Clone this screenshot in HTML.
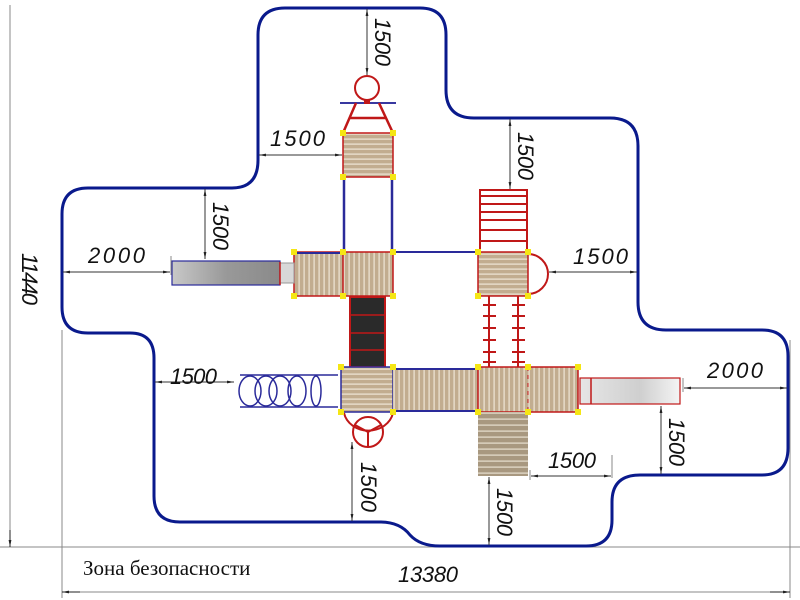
<!DOCTYPE html>
<html><head><meta charset="utf-8"><style>
html,body{margin:0;padding:0;background:#fff;width:800px;height:600px;overflow:hidden}
svg text{font-family:"Liberation Sans",sans-serif;font-style:italic;font-size:22px;fill:#111}
</style></head><body>
<svg width="800" height="600" viewBox="0 0 800 600" xmlns="http://www.w3.org/2000/svg">
<defs>
<pattern id="hs" width="6" height="5" patternUnits="userSpaceOnUse"><rect width="6" height="5" fill="#c2ad90"/><rect y="3.5" width="6" height="1.2" fill="#efe6d8"/></pattern>
<pattern id="vs" width="5" height="6" patternUnits="userSpaceOnUse"><rect width="5" height="6" fill="#c2ad90"/><rect x="3.5" width="1.2" height="6" fill="#efe6d8"/></pattern>
<pattern id="st" width="6" height="6" patternUnits="userSpaceOnUse"><rect width="6" height="6" fill="#a89880"/><rect y="4.5" width="6" height="1.2" fill="#e8e0d0"/></pattern>
<linearGradient id="gs" x1="0" y1="0" x2="1" y2="0"><stop offset="0" stop-color="#c8c8c8"/><stop offset="0.5" stop-color="#999"/><stop offset="1" stop-color="#8a8a8a"/></linearGradient>
<linearGradient id="gs2" x1="0" y1="0" x2="1" y2="0"><stop offset="0" stop-color="#e6e6e6"/><stop offset="0.6" stop-color="#cfcfcf"/><stop offset="1" stop-color="#f4f4f4"/></linearGradient>
<marker id="a" viewBox="0 0 10 10" refX="10" refY="5" markerWidth="7" markerHeight="7" orient="auto-start-reverse"><path d="M0,3 L10,5 L0,7z" fill="#222"/></marker>
</defs>

<g stroke="#888" stroke-width="1" fill="none">
<line x1="0" y1="547" x2="800" y2="547"/>
<line x1="10" y1="5" x2="10" y2="547"/>
<line x1="62" y1="330" x2="62" y2="598"/>
<line x1="790" y1="340" x2="790" y2="598"/>
<line x1="62" y1="592" x2="790" y2="592"/>
</g>
<g stroke="#222" stroke-width="1">
<line x1="10" y1="530" x2="10" y2="547" marker-end="url(#a)"/>
<line x1="80" y1="592" x2="62" y2="592" marker-end="url(#a)"/>
<line x1="770" y1="592" x2="790" y2="592" marker-end="url(#a)"/>
</g>
<text transform="translate(22,253) rotate(90)" textLength="52">11440</text>
<text x="398" y="582" textLength="60">13380</text>
<text x="83" y="575" style="font-family:'Liberation Serif',serif;font-style:normal;font-size:21px">Зона безопасности</text>

<path d="M258,160 L258,35 Q258,8 285,8 L420,8 Q446,8 446,35 L446,90 Q446,118 474,118 L610,118 Q638,118 638,146 L638,302 Q638,330 666,330 L762,330 Q788,330 788,356 L788,448 Q788,475 762,475 L640,475 Q612,475 612,502 L612,520 Q612,546 586,546 L440,546 Q420,546 410,535 Q400,522 380,522 L180,522 Q154,522 154,496 L154,358 Q154,333 130,333 L88,333 Q62,333 62,307 L62,214 Q62,188 88,188 L232,188 Q258,188 258,160 Z" fill="none" stroke="#0a1a8c" stroke-width="3"/>

<circle cx="367" cy="88" r="12" fill="none" stroke="#c01818" stroke-width="2"/>
<line x1="340" y1="103" x2="396" y2="103" stroke="#3838a0" stroke-width="2"/>
<rect x="364" y="99" width="6" height="5" fill="#c01818"/>
<g stroke="#c01818" stroke-width="2.5" fill="none">
<path d="M356,103 L343,133 M379,103 L393,133 M350,118 L386,118"/>
</g>
<rect x="343" y="133" width="50" height="44" fill="url(#hs)" stroke="#c01818" stroke-width="1.5"/>
<g stroke="#2a2a9a" stroke-width="2.5"><line x1="344" y1="177" x2="344" y2="252"/><line x1="392" y1="177" x2="392" y2="252"/></g>
<rect x="294" y="252" width="99" height="44" fill="url(#vs)" stroke="#c01818" stroke-width="1.5"/>
<line x1="294" y1="253" x2="343" y2="253" stroke="#2a2a9a" stroke-width="2"/>
<line x1="343" y1="252" x2="343" y2="296" stroke="#c01818" stroke-width="1.5"/>
<rect x="172" y="261" width="108" height="24" fill="url(#gs)" stroke="#2a2a9a" stroke-width="1.2"/>
<rect x="280" y="263" width="14" height="20" fill="#d8d8d8" stroke="#999" stroke-width="1"/>
<line x1="280" y1="262" x2="280" y2="285" stroke="#c01818" stroke-width="1.5"/>
<line x1="393" y1="252" x2="478" y2="252" stroke="#2a2a9a" stroke-width="2"/>
<g stroke="#c01818" stroke-width="2" fill="none">
<path d="M480,252 L480,190 L527,190 L527,252"/>
<path d="M480,196H527M480,204H527M480,212H527M480,220H527M480,230H527M480,241H527"/>
<path d="M528,254 A20,20 0 0 1 528,294"/>
<path d="M489,296 V370 M518,296 V370"/>
<path d="M483,305H496M483,316H496M483,328H496M483,340H496M483,352H496M483,362H496"/>
<path d="M512,305H525M512,316H525M512,328H525M512,340H525M512,352H525M512,362H525"/>
</g>
<rect x="478" y="252" width="50" height="44" fill="url(#hs)" stroke="#c01818" stroke-width="1.5"/>
<rect x="350" y="297" width="35" height="70" fill="#2a2a2a" stroke="#c01818" stroke-width="2"/>
<g stroke="#c01818" stroke-width="1.5"><line x1="350" y1="315" x2="385" y2="315"/><line x1="350" y1="333" x2="385" y2="333"/><line x1="350" y1="350" x2="385" y2="350"/></g>
<rect x="341" y="367" width="52" height="45" fill="url(#hs)" stroke="#2a2a9a" stroke-width="1.5"/>
<rect x="393" y="369" width="85" height="41" fill="url(#vs)"/>
<line x1="393" y1="369" x2="478" y2="369" stroke="#2a2a9a" stroke-width="2"/>
<line x1="393" y1="411" x2="478" y2="411" stroke="#2a2a9a" stroke-width="2"/>
<rect x="478" y="367" width="100" height="45" fill="url(#vs)" stroke="#c01818" stroke-width="1.5"/>
<line x1="528" y1="367" x2="528" y2="412" stroke="#c01818" stroke-width="1" stroke-dasharray="4,4"/>
<g stroke="#2a2a9a" stroke-width="1.5" fill="none">
<line x1="240" y1="375" x2="338" y2="375"/><line x1="240" y1="407" x2="338" y2="407"/>
<ellipse cx="250" cy="391" rx="11" ry="15"/><ellipse cx="266" cy="391" rx="11" ry="15"/><ellipse cx="280" cy="391" rx="11" ry="15"/><ellipse cx="297" cy="391" rx="9" ry="15"/><ellipse cx="316" cy="391" rx="5" ry="15"/>
</g>
<g stroke="#c01818" stroke-width="2" fill="none">
<path d="M344,413 A25,22 0 0 0 393,413"/>
<circle cx="368" cy="432" r="15"/>
<path d="M368,432 V447 M368,432 L355,425 M368,432 L381,425"/>
</g>
<rect x="478" y="412" width="50" height="64" fill="url(#st)"/>
<rect x="580" y="378" width="100" height="26" fill="url(#gs2)" stroke="#c01818" stroke-width="1.2"/>
<line x1="591" y1="378" x2="591" y2="404" stroke="#c01818" stroke-width="1.5"/>
<g fill="#f5e614">
<rect x="340" y="130" width="6" height="6"/><rect x="390" y="130" width="6" height="6"/><rect x="340" y="174" width="6" height="6"/><rect x="390" y="174" width="6" height="6"/>
<rect x="291" y="249" width="6" height="6"/><rect x="340" y="249" width="6" height="6"/><rect x="390" y="249" width="6" height="6"/>
<rect x="291" y="293" width="6" height="6"/><rect x="340" y="293" width="6" height="6"/><rect x="390" y="293" width="6" height="6"/>
<rect x="475" y="249" width="6" height="6"/><rect x="525" y="249" width="6" height="6"/><rect x="475" y="293" width="6" height="6"/><rect x="525" y="293" width="6" height="6"/>
<rect x="338" y="364" width="6" height="6"/><rect x="390" y="364" width="6" height="6"/><rect x="475" y="364" width="6" height="6"/><rect x="525" y="364" width="6" height="6"/><rect x="575" y="364" width="6" height="6"/>
<rect x="338" y="409" width="6" height="6"/><rect x="390" y="409" width="6" height="6"/><rect x="475" y="409" width="6" height="6"/><rect x="525" y="409" width="6" height="6"/><rect x="575" y="409" width="6" height="6"/>
</g>

<g stroke="#333" stroke-width="1" marker-start="url(#a)" marker-end="url(#a)">
<line x1="367" y1="9" x2="367" y2="75"/>
<line x1="259" y1="155" x2="342" y2="155"/>
<line x1="510" y1="119" x2="510" y2="189"/>
<line x1="205" y1="189" x2="205" y2="259"/>
<line x1="63" y1="272" x2="170" y2="272"/>
<line x1="549" y1="272" x2="637" y2="272"/>
<line x1="155" y1="382" x2="234" y2="382"/>
<line x1="684" y1="388" x2="787" y2="388"/>
<line x1="661" y1="406" x2="661" y2="474"/>
<line x1="531" y1="476" x2="611" y2="476"/>
<line x1="489" y1="477" x2="489" y2="545"/>
<line x1="352" y1="442" x2="352" y2="521"/>
</g>
<g stroke="#888" stroke-width="1">
<line x1="171" y1="256" x2="171" y2="275"/>
<line x1="683" y1="378" x2="683" y2="392"/>
<line x1="612" y1="455" x2="612" y2="478"/>
<line x1="530" y1="470" x2="530" y2="480"/>
</g>
<g>
<text transform="translate(375,18) rotate(90)" textLength="48">1500</text>
<text x="270" y="146" textLength="55">1500</text>
<text transform="translate(518,132) rotate(90)" textLength="48">1500</text>
<text transform="translate(213,202) rotate(90)" textLength="48">1500</text>
<text x="88" y="263" textLength="57">2000</text>
<text x="573" y="264" textLength="55">1500</text>
<text x="170" y="384" textLength="47">1500</text>
<text x="707" y="378" textLength="56">2000</text>
<text transform="translate(669,418) rotate(90)" textLength="48">1500</text>
<text x="548" y="468" textLength="48">1500</text>
<text transform="translate(497,488) rotate(90)" textLength="48">1500</text>
<text transform="translate(361,462) rotate(90)" textLength="50">1500</text>
</g>
</svg>
</body></html>
